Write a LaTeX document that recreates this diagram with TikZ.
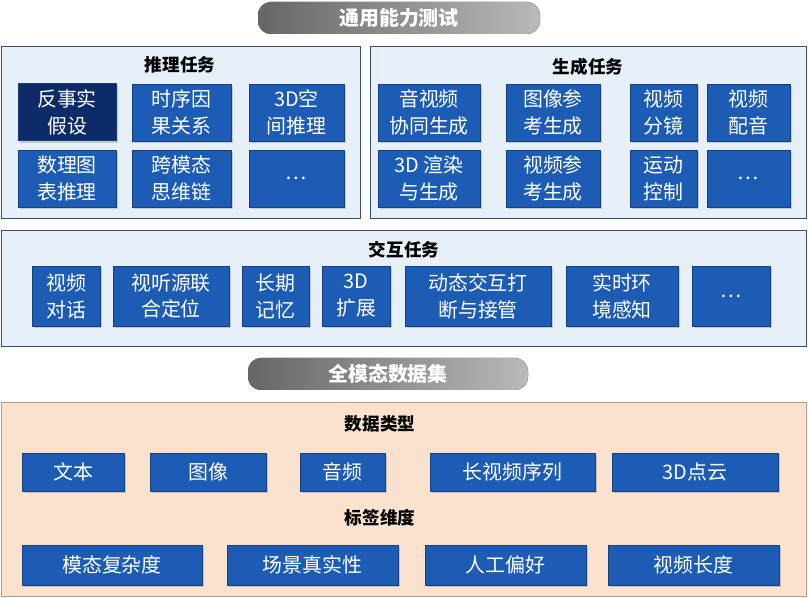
\documentclass[tikz,border=0pt]{standalone}
\usepackage{fontspec}
\setmainfont{Noto Sans CJK SC}
\usetikzlibrary{shadows}
\definecolor{boxblue}{HTML}{1D5CB4}
\definecolor{darkblue}{HTML}{0C2B68}
\definecolor{panelblue}{HTML}{E7EFF9}
\definecolor{panelline}{HTML}{3B4A78}
\definecolor{peach}{HTML}{FBE2CF}
\definecolor{peachline}{HTML}{B89A88}
\tikzset{
  tbox/.style={fill=boxblue, draw=boxblue!70!black, text=white, align=center, inner sep=0pt,
    drop shadow={shadow xshift=2pt, shadow yshift=-2pt, opacity=0.35},
    font=\fontsize{17}{23}\selectfont},
  panel/.style={draw=panelline, fill=panelblue, line width=0.8pt},
  ptitle/.style={font=\bfseries\fontsize{15}{18}\selectfont},
  pill/.style={rounded corners=11pt, left color=gray!80!black, right color=gray!55, draw=none},
  pilltext/.style={text=white, font=\bfseries\fontsize{17}{20}\selectfont}
}
\newcommand{\bx}[6]{\node[tbox, minimum width={(#4-#2)*0.03cm}, minimum height={(#5-#3)*0.03cm}] (#1) at ({(#2+#4)/2},{(#3+#5)/2}) {#6};}
\begin{document}
\begin{tikzpicture}[x=0.03cm, y=-0.03cm]
  \useasboundingbox (0,0) rectangle (808,598);
  % general ability tests
  \fill[pill] (258,2) rectangle (540,34);
  \node[pilltext] (test) at (399,18) {通用能力测试};
  % reasoning
  \draw[panel] (1,46) rectangle (360,218);
  \node[ptitle] (reason) at (180,65) {推理任务};
  \node[tbox, fill=darkblue, minimum width={98*0.03cm}, minimum height={57*0.03cm}] (r1) at (67,112) {反事实\\假设};
  \bx{r2}{132}{84}{231}{141}{时序因\\果关系}
  \bx{r3}{249}{84}{344}{141}{3D空\\间推理}
  \bx{r4}{18}{150}{116}{207}{数理图\\表推理}
  \bx{r5}{132}{150}{231}{207}{跨模态\\思维链}
  \bx{r6}{249}{150}{344}{207}{…}
  % generation
  \draw[panel] (370,46) rectangle (806,218);
  \node[ptitle] (gen) at (588,67) {生成任务};
  \bx{g1}{378}{84}{480}{141}{音视频\\协同生成}
  \bx{g2}{506}{84}{600}{141}{图像参\\考生成}
  \bx{g3}{630}{84}{697}{141}{视频\\分镜}
  \bx{g4}{707}{84}{790}{141}{视频\\配音}
  \bx{g5}{378}{150}{480}{207}{3D 渲染\\与生成}
  \bx{g6}{506}{150}{600}{207}{视频参\\考生成}
  \bx{g7}{630}{150}{697}{207}{运动\\控制}
  \bx{g8}{707}{150}{790}{207}{…}
  % interaction
  \draw[panel] (1,230) rectangle (806,346);
  \node[ptitle] (inter) at (404,250) {交互任务};
  \bx{i1}{32}{266}{100}{326}{视频\\对话}
  \bx{i2}{113}{266}{229}{326}{视听源联\\合定位}
  \bx{i3}{242}{266}{309}{326}{长期\\记忆}
  \bx{i4}{322}{266}{390}{326}{3D\\扩展}
  \bx{i5}{405}{266}{551}{326}{动态交互打\\断与接管}
  \bx{i6}{566}{266}{678}{326}{实时环\\境感知}
  \bx{i7}{692}{266}{770}{326}{…}
  % omni-modal dataset
  \fill[pill] (248,358) rectangle (528,390);
  \node[pilltext] (data) at (388,374) {全模态数据集};
  \draw[draw=peachline, fill=peach, line width=0.8pt] (1,402) rectangle (806,596);
  \node[ptitle] (dtype) at (380,424) {数据类型};
  \bx{d1}{22}{453}{124}{491}{文本}
  \bx{d2}{150}{453}{266}{491}{图像}
  \bx{d3}{300}{453}{385}{491}{音频}
  \bx{d4}{430}{453}{595}{491}{长视频序列}
  \bx{d5}{612}{453}{778}{491}{3D点云}
  \node[ptitle] (label) at (380,518) {标签维度};
  \bx{l1}{22}{545}{202}{585}{模态复杂度}
  \bx{l2}{227}{545}{398}{585}{场景真实性}
  \bx{l3}{425}{545}{586}{585}{人工偏好}
  \bx{l4}{608}{545}{779}{585}{视频长度}
\end{tikzpicture}
\end{document}
